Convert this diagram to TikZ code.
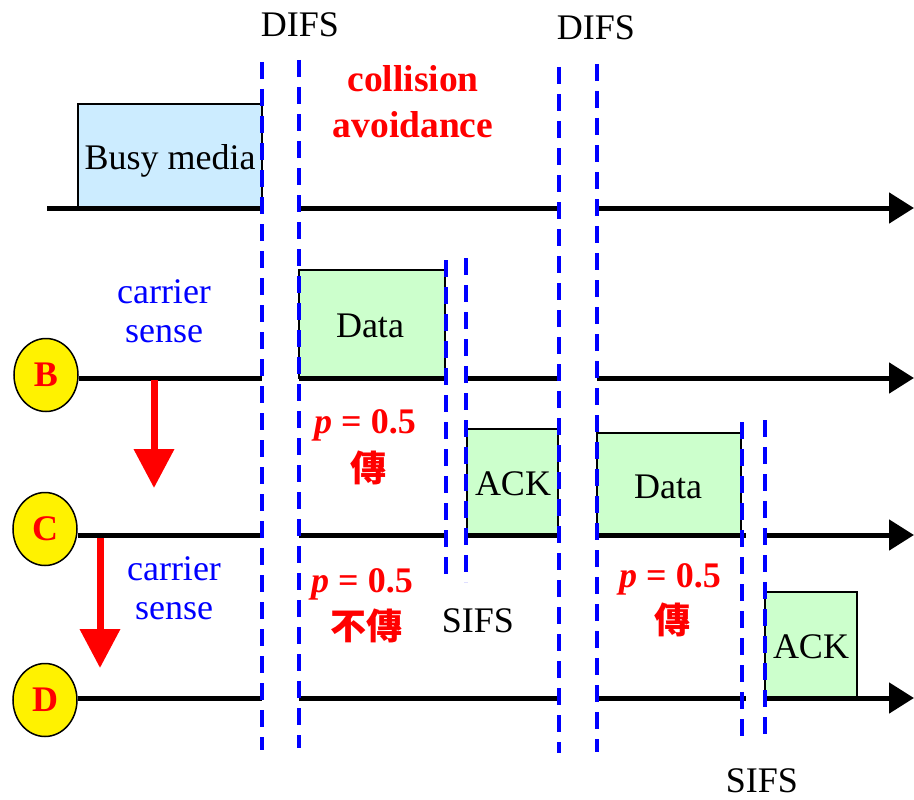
\documentclass[tikz,border=0pt]{standalone}
\usepackage{fontspec}
\setmainfont{Liberation Serif}
\newfontfamily\cjk{Noto Sans CJK TC}
\usetikzlibrary{arrows.meta,shapes.geometric}
\definecolor{busyblue}{HTML}{CCECFF}
\definecolor{framegreen}{HTML}{CCFFCC}
\tikzset{
  txt/.style={inner sep=0pt, anchor=base, font=\fontsize{36}{40}\selectfont},
  hot/.style={txt, text=red, font=\fontsize{36}{40}\selectfont\bfseries},
  hotbig/.style={hot, font=\fontsize{37.5}{42}\selectfont\bfseries},
  hotcjk/.style={hot, anchor=center, font=\fontsize{36}{40}\selectfont\cjk\bfseries},
  cs/.style={txt, text=blue},
  timeline/.style={line width=5pt, black},
  flow/.style={timeline, -{Triangle[length=25pt,width=30pt]}},
  ifs/.style={draw=blue, line width=4pt, dash pattern=on 17pt off 10pt},
  frame/.style={draw=black, line width=1.5pt},
  station/.style={ellipse, draw=black, line width=1.5pt, fill=yellow,
    minimum width=64pt, minimum height=73pt, inner sep=0pt, text=red,
    font=\fontsize{36}{40}\selectfont\bfseries},
  sense/.style={red, line width=7pt, -{Triangle[length=39pt,width=39pt]}}
}
\begin{document}
\begin{tikzpicture}[x=1pt,y=-1pt]
\useasboundingbox (0,0) rectangle (914,800);

% frames on the medium
\draw[frame, fill=busyblue]   (78,104) rectangle (262,208);
\draw[frame, fill=framegreen] (299,270) rectangle (445,378);
\draw[frame, fill=framegreen] (467,429) rectangle (558,535);
\draw[frame, fill=framegreen] (597,433) rectangle (741,535);
\draw[frame, fill=framegreen] (765,592) rectangle (857,698);

% stations
\node[station] (B) at (46,375) {B};
\node[station] (C) at (45,529) {C};
\node[station] (D) at (45,700) {D};

% timelines, broken at the inter-frame spaces
\coordinate (Aend) at (914,208);
\coordinate (Bend) at (914,378);
\coordinate (Cend) at (914,535);
\coordinate (Dend) at (914,698);

\draw[timeline] (47,208) -- (262,208);
\draw[timeline] (299,208) -- (559,208);
\draw[flow] (597,208) -- (Aend);

\draw[timeline] (B.east |- Bend) -- (262,378);
\draw[timeline] (299,378) -- (447,378);
\draw[timeline] (465,378) -- (559,378);
\draw[flow] (597,378) -- (Bend);

\draw[timeline] (C.east |- Cend) -- (262,535);
\draw[timeline] (299,535) -- (447,535);
\draw[timeline] (465,535) -- (559,535);
\draw[timeline] (596,535) -- (746,535);
\draw[flow] (764,535) -- (Cend);

\draw[timeline] (D.east |- Dend) -- (262,698);
\draw[timeline] (299,698) -- (559,698);
\draw[timeline] (596,698) -- (746,698);
\draw[flow] (764,698) -- (Dend);

% DIFS / SIFS boundaries
\draw[ifs] (262,62) -- (262,750);
\draw[ifs] (299,60) -- (299,748);
\draw[ifs] (559,67) -- (559,753);
\draw[ifs] (597,64) -- (597,752);
\draw[ifs] (446,260) -- (446,582);
\draw[ifs] (466,258) -- (466,582);
\draw[ifs] (742,422) -- (742,745);
\draw[ifs] (765,420) -- (765,743);

% carrier sense propagation
\coordinate (s1a) at (154,380);
\coordinate (s1b) at (154,488);
\coordinate (s2a) at (100,538);
\coordinate (s2b) at (100,668);
\draw[sense] (s1a) -- (s1b);
\draw[sense] (s2a) -- (s2b);

% labels
\node[txt] (difs1) at (300,37) {DIFS};
\node[txt] (difs2) at (596,40) {DIFS};
\node[hotbig] (ca1) at (413,92) {collision};
\node[hotbig] (ca2) at (413,137) {avoidance};
\node[txt] (busy) at (170,169) {Busy media};
\node[txt] (dataB) at (370,337) {Data};
\node[txt] (ackC) at (513,495) {ACK};
\node[txt] (dataC) at (668,498) {Data};
\node[txt] (ackD) at (811,658) {ACK};
\node[txt] (sifs1) at (478,632) {SIFS};
\node[txt] (sifs2) at (762,792) {SIFS};

\node[cs] (cs1a) at (164,303) {carrier};
\node[cs] (cs1b) at (164,342) {sense};
\node[cs] (cs2a) at (174,580) {carrier};
\node[cs] (cs2b) at (174,619) {sense};

\node[hot] (p1) at (365,433) {{\itshape p} = 0.5};
\node[hotcjk] (t1) at (368,468) {傳};
\node[hot] (p2) at (362,592) {{\itshape p} = 0.5};
\node[hotcjk] (t2) at (366,626) {不傳};
\node[hot] (p3) at (670,587) {{\itshape p} = 0.5};
\node[hotcjk] (t3) at (672,620) {傳};
\end{tikzpicture}
\end{document}
